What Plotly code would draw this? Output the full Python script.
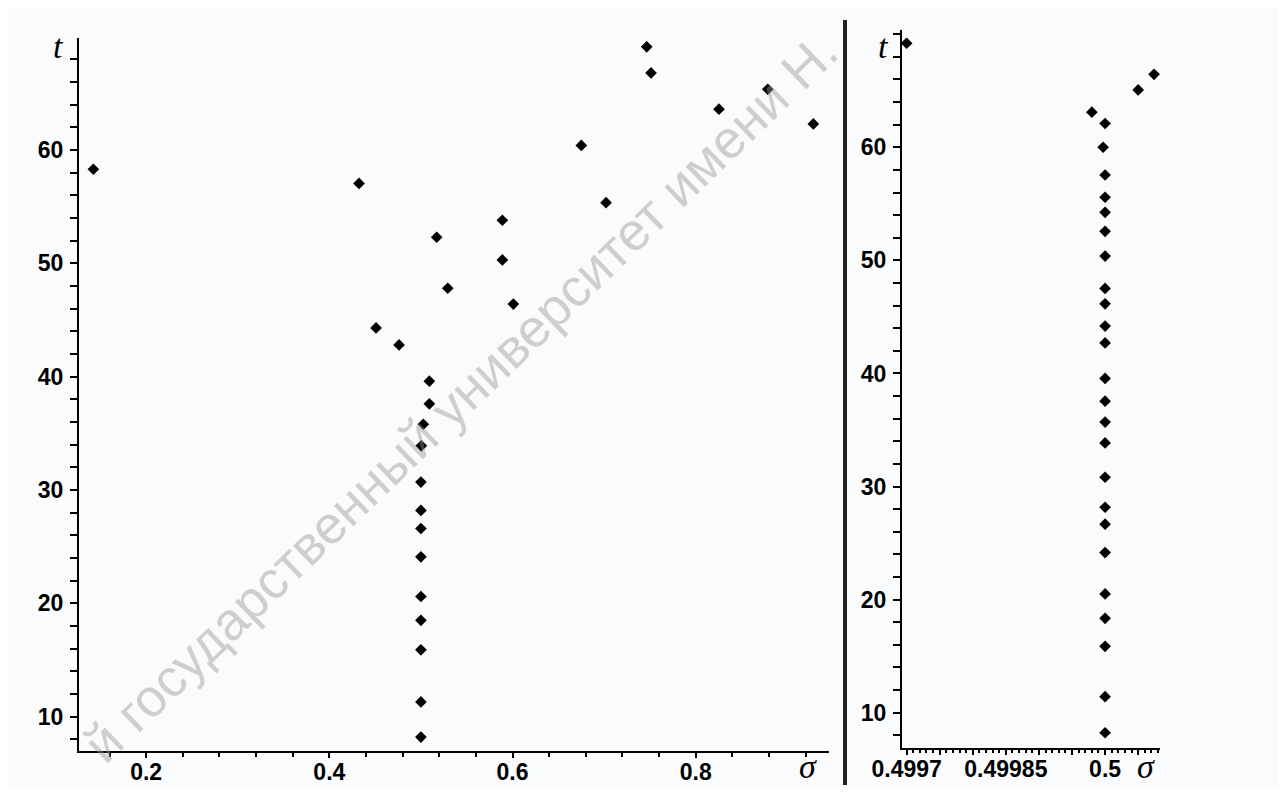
import plotly.graph_objects as go

# page body has an 8px margin: the figure starts at (8, 8) in the window
OX, OY = 8, 8
W, H = 1270, 778

# ---- data: left panel (sigma, t) ----
left_sigma = [0.5, 0.5, 0.5, 0.5, 0.5, 0.5, 0.5, 0.5, 0.5, 0.5004,
              0.5026, 0.5092, 0.5092, 0.4761, 0.4510, 0.6009, 0.5293,
              0.5889, 0.5172, 0.5889, 0.7021, 0.4324, 0.1424, 0.6751,
              0.9284, 0.8254, 0.8786, 0.7512, 0.7465]
left_t = [8.2, 11.3, 15.9, 18.5, 20.6, 24.1, 26.6, 28.2, 30.7, 33.9,
          35.8, 37.6, 39.6, 42.8, 44.3, 46.4, 47.8,
          50.3, 52.3, 53.8, 55.35, 57.05, 58.3, 60.4,
          62.3, 63.6, 65.36, 66.8, 69.1]

# ---- data: right panel (sigma, t) ----
right_sigma = [0.5, 0.5, 0.5, 0.5, 0.5, 0.5, 0.5, 0.5, 0.5, 0.5,
               0.5, 0.5, 0.5, 0.5, 0.5, 0.5, 0.5, 0.5, 0.5, 0.5,
               0.5, 0.5, 0.499997, 0.5, 0.49998, 0.50005, 0.500074, 0.4997]
right_t = [8.23, 11.42, 15.87, 18.35, 20.5, 24.16, 26.67, 28.17, 30.82, 33.86,
           35.7, 37.55, 39.56, 42.7, 44.19, 46.16, 47.52, 50.38, 52.57, 54.25,
           55.58, 57.55, 60.0, 62.1, 63.1, 65.07, 66.45, 69.2]

# ---- tick labels ----
left_xticks = [0.2, 0.4, 0.6, 0.8]
left_xticklabels = ["0.2", "0.4", "0.6", "0.8"]
right_xticks = [0.4997, 0.49975, 0.4998, 0.49985, 0.4999, 0.49995, 0.5, 0.50005]
right_xticklabels = ["0.4997", "", "", "0.49985", "", "", "0.5", ""]
yticks = [10, 20, 30, 40, 50, 60]
yticklabels = ["10", "20", "30", "40", "50", "60"]

watermark = "й государственный университет имени Н."

def px(x):
    return (x - OX) / W

def py(y):
    return 1 - (y - OY) / H

tickfont = dict(family="Liberation Sans, Arial, sans-serif", size=23,
                color="black", weight="bold")
marker = dict(symbol="diamond", size=9, color="black")

fig = go.Figure()
fig.add_trace(go.Scatter(x=left_sigma, y=left_t, mode="markers",
                         marker=marker, xaxis="x", yaxis="y",
                         showlegend=False))
fig.add_trace(go.Scatter(x=right_sigma, y=right_t, mode="markers",
                         marker=marker, xaxis="x2", yaxis="y2",
                         showlegend=False))

common_x = dict(showline=True, linewidth=2, linecolor="black",
                ticks="outside", ticklen=5, tickwidth=2, tickcolor="black",
                showgrid=False, zeroline=False, tickfont=tickfont,
                automargin=False, ticklabelstandoff=-6)
common_y = dict(showline=True, linewidth=2, linecolor="black",
                ticks="outside", ticklen=7, tickwidth=2, tickcolor="black",
                showgrid=False, zeroline=False, tickfont=tickfont,
                automargin=False, ticklabelstandoff=2,
                tickmode="array", tickvals=yticks, ticktext=yticklabels,
                minor=dict(dtick=2, tick0=0, ticks="outside", ticklen=7,
                           tickwidth=2, tickcolor="black"))

fig.update_layout(
    width=W, height=H,
    margin=dict(l=0, r=0, t=0, b=0, autoexpand=False),
    paper_bgcolor="#f9fbfc",
    plot_bgcolor="#f9fbfc",
    xaxis=dict(common_x, domain=[px(79), px(829)], range=[0.1267, 0.9455],
               anchor="y", tickmode="array", tickvals=left_xticks,
               ticktext=left_xticklabels,
               minor=dict(dtick=0.04, tick0=0, ticks="outside", ticklen=4,
                          tickwidth=2, tickcolor="black")),
    yaxis=dict(common_y, domain=[py(751), py(38)], range=[6.97, 69.88],
               anchor="x"),
    xaxis2=dict(common_x, domain=[px(902), px(1160)],
                range=[0.499693, 0.500083], anchor="y2", tickmode="array",
                tickvals=right_xticks, ticktext=right_xticklabels,
                minor=dict(dtick=0.00001, tick0=0.4997, ticks="outside",
                           ticklen=3, tickwidth=2, tickcolor="black")),
    yaxis2=dict(common_y, domain=[py(748), py(30)], range=[6.88, 70.37],
                anchor="x2"),
)

axis_title_font = dict(family="Liberation Serif, Times New Roman, serif",
                       size=34, color="black", style="italic")
for (x, y, txt) in [(58, 46, "t"), (883, 46, "t"),
                    (808, 766, "σ"), (1146, 766, "σ")]:
    fig.add_annotation(x=px(x), y=py(y), xref="paper", yref="paper",
                       text=txt, showarrow=False, font=axis_title_font,
                       xanchor="center", yanchor="middle")

# separator between panels
fig.add_shape(type="line", xref="paper", yref="paper",
              x0=px(845), x1=px(845), y0=py(20), y1=py(785),
              line=dict(color="#222222", width=4))

# diagonal watermark
fig.add_annotation(x=px(460), y=0.5, xref="paper", yref="paper",
                   text=watermark, showarrow=False, textangle=-44,
                   font=dict(family="Liberation Sans, Arial, sans-serif",
                             size=53, color="rgba(150,150,150,0.45)"),
                   xanchor="center", yanchor="middle")

fig.write_html("out.html")
